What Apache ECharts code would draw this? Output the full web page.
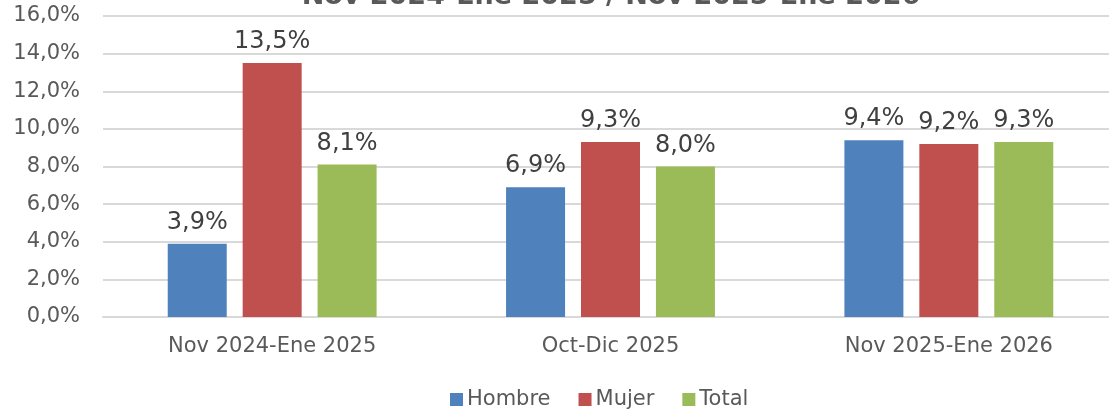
<!DOCTYPE html>
<html>
<head>
<meta charset="utf-8">
<script src="https://cdn.jsdelivr.net/npm/echarts@6/dist/echarts.min.js"></script>
<style>
  html, body { margin: 0; padding: 0; background: #fff; }
  #mycharts { width: 1109px; height: 412px; }
</style>
</head>
<body>
<div id="mycharts"></div>
<script>
// periodos
var categories = ["Nov 2024-Ene 2025", "Oct-Dic 2025", "Nov 2025-Ene 2026"];
var hombre = [3.9, 6.9, 9.4];
var mujer = [13.5, 9.3, 9.2];
var total = [8.1, 8.0, 9.3];
var yTicks = [0, 2, 4, 6, 8, 10, 12, 14, 16];

var fmt = function (v) {
  return v.toFixed(1).replace(".", ",") + "%";
};

var myCharts = echarts.init(document.getElementById("mycharts"));

var labelStyle = {
  show: true,
  position: "top",
  distance: 9,
  fontFamily: "DejaVu Sans",
  fontSize: 24,
  color: "#404040",
  formatter: function (p) {
    return fmt(p.value);
  }
};

var option = {
  animation: false,
  title: {
    text: "Nov 2024-Ene 2025 / Nov 2025-Ene 2026",
    left: 606,
    textAlign: "center",
    top: -22,
    textStyle: {
      fontFamily: "DejaVu Sans",
      fontWeight: "bold",
      fontSize: 27,
      color: "#595959"
    }
  },
  grid: {
    left: 103,
    right: -9,
    top: 16,
    bottom: 95,
    outerBoundsMode: "none",
    containLabel: false
  },
  legend: {
    data: ["Hombre", "Mujer", "Total"],
    bottom: -3,
    left: 445,
    itemWidth: 13,
    itemHeight: 13,
    itemGap: 28,
    icon: "rect",
    textStyle: {
      fontFamily: "DejaVu Sans",
      fontSize: 21,
      color: "#595959",
      padding: [0, 0, 0, -1]
    }
  },
  xAxis: {
    type: "category",
    data: categories,
    axisTick: { show: false },
    axisLine: { lineStyle: { color: "#D9D9D9", width: 2 } },
    axisLabel: {
      margin: 19,
      fontFamily: "DejaVu Sans",
      fontSize: 21,
      color: "#595959"
    }
  },
  yAxis: {
    type: "value",
    min: yTicks[0],
    max: yTicks[yTicks.length - 1],
    interval: 2,
    axisLine: { show: false },
    axisTick: { show: false },
    splitLine: { lineStyle: { color: "#D9D9D9", width: 2 } },
    axisLabel: {
      margin: 23,
      fontFamily: "DejaVu Sans",
      fontSize: 21,
      color: "#595959",
      formatter: function (v) {
        return fmt(v);
      }
    }
  },
  series: [
    {
      name: "Hombre",
      type: "bar",
      data: hombre,
      barWidth: 59,
      barGap: "27%",
      itemStyle: { color: "#4F81BD" },
      label: labelStyle
    },
    {
      name: "Mujer",
      type: "bar",
      data: mujer,
      barWidth: 59,
      barGap: "27%",
      itemStyle: { color: "#C0504D" },
      label: labelStyle
    },
    {
      name: "Total",
      type: "bar",
      data: total,
      barWidth: 59,
      barGap: "27%",
      itemStyle: { color: "#9BBB59" },
      label: labelStyle
    }
  ]
};

myCharts.setOption(option);
</script>
</body>
</html>
